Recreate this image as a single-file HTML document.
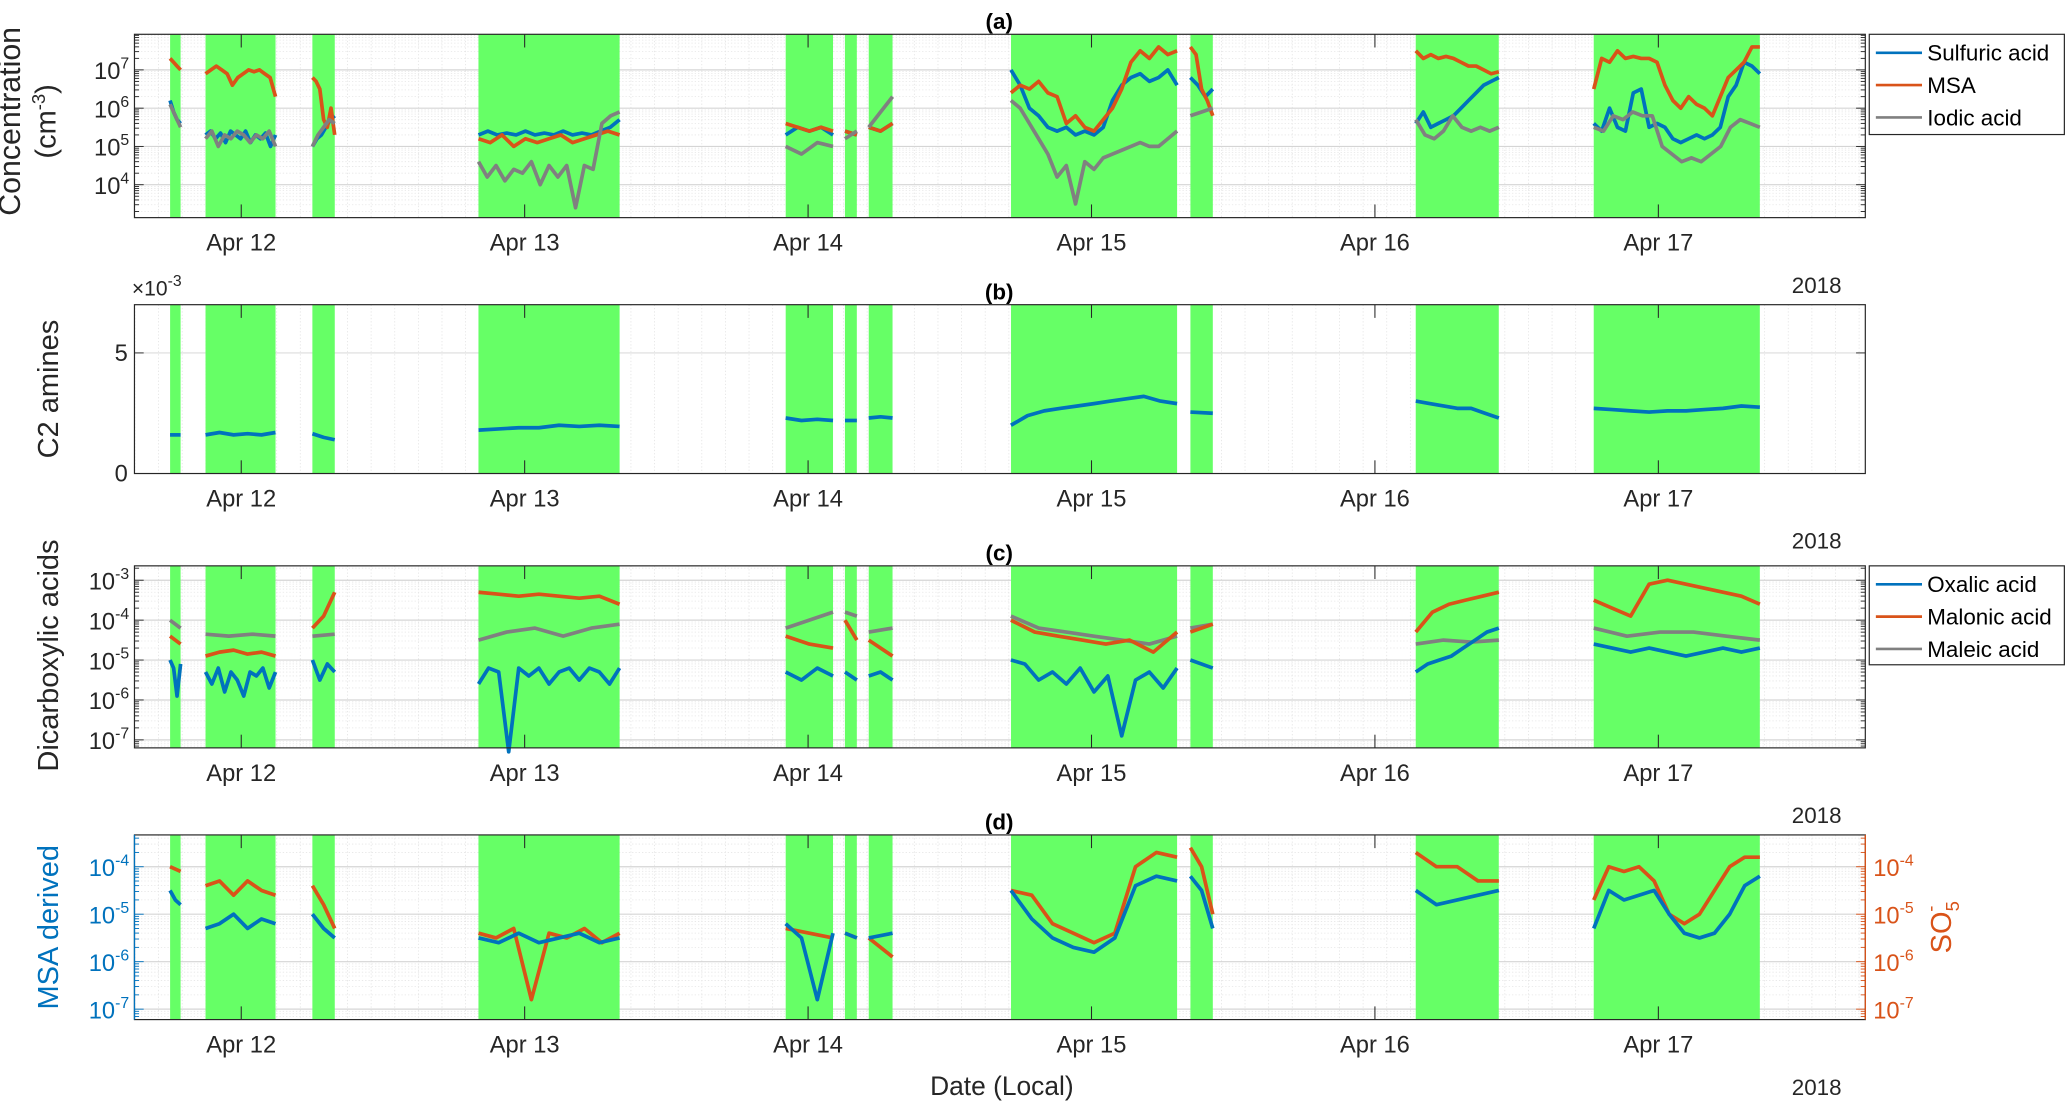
<!DOCTYPE html>
<html><head><meta charset="utf-8"><style>
html,body{margin:0;padding:0;background:#fff;}
svg{display:block;font-family:"Liberation Sans",Arial,sans-serif;}
</style></head><body>
<svg id="chart" width="2067" height="1104" viewBox="0 0 1568 837" preserveAspectRatio="none" xmlns="http://www.w3.org/2000/svg"></svg>
<script>
// ---- data (time in days since Apr 12 00:00 local) ----
const dayLabels = ["Apr 12","Apr 13","Apr 14","Apr 15","Apr 16","Apr 17"];
const bandStart = [-0.251,-0.126,0.251,0.837,1.921,2.130,2.214,2.716,3.349,4.144,4.772];
const bandEnd   = [-0.214, 0.121,0.330,1.335,2.088,2.172,2.298,3.302,3.428,4.437,5.358];
// panel a (log10 cm^-3)
const sulfuric = [[6.2,5.9,5.7,5.6],[5.3,5.4,5.2,5.35,5.1,5.4,5.3,5.2,5.4,5.1,5.3,5.2,5.35,5.0,5.3],[5.0,5.2,5.3,5.5,5.7,5.8],
 [5.3,5.4,5.3,5.35,5.3,5.4,5.3,5.35,5.3,5.4,5.3,5.35,5.3,5.4,5.5,5.7],[5.3,5.5,5.4,5.5,5.3],[5.4,5.3],[5.5,5.4,5.6],
 [7.0,6.6,6.0,5.8,5.5,5.4,5.5,5.3,5.4,5.3,5.5,6.2,6.6,6.8,6.9,6.7,6.8,7.0,6.6],[6.8,6.6,6.3,6.5],
 [5.6,5.9,5.5,5.6,5.7,5.8,6.0,6.2,6.4,6.6,6.7,6.8],[5.6,5.4,6.0,5.5,5.4,6.4,6.5,5.5,5.6,5.5,5.2,5.1,5.2,5.3,5.2,5.3,5.5,6.3,6.6,7.2,7.1,6.9]];
const msa = [[7.3,7.2,7.1,7.0],[6.9,7.0,7.1,7.0,6.9,6.6,6.8,6.9,7.0,6.95,7.0,6.9,6.8,6.3],[6.8,6.7,6.5,5.7,5.5,6.0,5.3],
 [5.2,5.1,5.3,5.0,5.2,5.1,5.2,5.3,5.1,5.2,5.3,5.4,5.3],[5.6,5.5,5.4,5.5,5.4],[5.4,5.3],[5.5,5.4,5.6],
 [6.4,6.6,6.5,6.7,6.4,6.3,5.6,5.8,5.5,5.4,5.7,6.0,6.5,7.2,7.5,7.3,7.6,7.4,7.5],[7.6,7.4,6.5,6.2,5.8],
 [7.5,7.3,7.4,7.3,7.35,7.3,7.2,7.1,7.1,7.0,6.9,6.95],[6.5,7.3,7.2,7.5,7.3,7.35,7.3,7.3,7.2,6.6,6.2,6.0,6.3,6.1,6.0,5.8,6.3,6.8,7.0,7.2,7.6,7.6]];
const iodic = [[6.1,5.9,5.7,5.5],[5.2,5.4,5.0,5.3,5.2,5.4,5.3,5.1,5.3,5.2,5.4,5.0],[5.0,5.3,5.5,5.7,5.6],
 [4.6,4.2,4.5,4.1,4.4,4.3,4.6,4.0,4.5,4.2,4.5,3.4,4.5,4.4,5.6,5.8,5.9],[5.0,4.8,5.1,5.0],[5.2,5.4],[5.5,5.9,6.3],
 [6.2,6.0,5.6,5.2,4.8,4.2,4.5,3.5,4.6,4.4,4.7,4.8,4.9,5.0,5.1,5.0,5.0,5.2,5.4],[5.8,5.9,6.0],
 [5.7,5.3,5.2,5.4,5.8,5.5,5.4,5.5,5.4,5.5],[5.5,5.4,5.8,5.7,5.9,5.8,5.8,5.0,4.8,4.6,4.7,4.6,4.8,5.0,5.5,5.7,5.6,5.5]];
// panel b (x1e-3)
const amines = [[1.6,1.6],[1.6,1.7,1.6,1.65,1.6,1.7],[1.65,1.5,1.4],[1.8,1.85,1.9,1.9,2.0,1.95,2.0,1.95],[2.3,2.2,2.25,2.2],[2.2,2.2],[2.3,2.35,2.3],
 [2.0,2.4,2.6,2.7,2.8,2.9,3.0,3.1,3.2,3.0,2.9],[2.55,2.5],[3.0,2.9,2.8,2.7,2.7,2.5,2.3],[2.7,2.65,2.6,2.55,2.6,2.6,2.65,2.7,2.8,2.75]];
// panel c (log10)
const oxalic = [[-5.0,-5.2,-5.9,-5.1],[-5.3,-5.6,-5.2,-5.8,-5.3,-5.5,-5.9,-5.3,-5.4,-5.2,-5.7,-5.3],[-5.0,-5.5,-5.1,-5.3],
 [-5.6,-5.2,-5.3,-7.3,-5.2,-5.4,-5.2,-5.6,-5.3,-5.2,-5.5,-5.2,-5.3,-5.6,-5.2],[-5.3,-5.5,-5.2,-5.4],[-5.3,-5.5],[-5.4,-5.3,-5.5],
 [-5.0,-5.1,-5.5,-5.3,-5.6,-5.2,-5.8,-5.4,-6.9,-5.5,-5.3,-5.7,-5.2],[-5.0,-5.2],[-5.3,-5.1,-5.0,-4.9,-4.7,-4.5,-4.3,-4.2],
 [-4.6,-4.7,-4.8,-4.7,-4.8,-4.9,-4.8,-4.7,-4.8,-4.7]];
const malonic = [[-4.4,-4.6],[-4.9,-4.8,-4.75,-4.85,-4.8,-4.9],[-4.2,-3.9,-3.3],[-3.3,-3.35,-3.4,-3.35,-3.4,-3.45,-3.4,-3.6],[-4.4,-4.6,-4.7],[-4.0,-4.5],[-4.5,-4.9],
 [-4.0,-4.3,-4.4,-4.5,-4.6,-4.5,-4.8,-4.3],[-4.3,-4.1],[-4.3,-3.8,-3.6,-3.5,-3.4,-3.3],[-3.5,-3.7,-3.9,-3.1,-3.0,-3.1,-3.2,-3.3,-3.4,-3.6]];
const maleic = [[-4.0,-4.2],[-4.35,-4.4,-4.35,-4.4],[-4.4,-4.35],[-4.5,-4.3,-4.2,-4.4,-4.2,-4.1],[-4.2,-3.8],[-3.8,-3.9],[-4.3,-4.2],
 [-3.9,-4.2,-4.3,-4.4,-4.5,-4.6,-4.4],[-4.2,-4.1],[-4.6,-4.5,-4.55,-4.5],[-4.2,-4.4,-4.3,-4.3,-4.4,-4.5]];
// panel d (log10)
const msaDerived = [[-4.5,-4.7,-4.8],[-5.3,-5.2,-5.0,-5.3,-5.1,-5.2],[-5.0,-5.3,-5.5],[-5.5,-5.6,-5.4,-5.6,-5.5,-5.4,-5.6,-5.5],[-5.2,-5.5,-6.8,-5.4],[-5.4,-5.5],[-5.5,-5.4],
 [-4.5,-5.1,-5.5,-5.7,-5.8,-5.5,-4.4,-4.2,-4.3],[-4.2,-4.5,-5.3],[-4.5,-4.8,-4.7,-4.6,-4.5],[-5.3,-4.5,-4.7,-4.6,-4.5,-5.0,-5.4,-5.5,-5.4,-5.0,-4.4,-4.2]];
const so5 = [[-4.0,-4.1],[-4.4,-4.3,-4.6,-4.3,-4.5,-4.6],[-4.4,-4.8,-5.3],[-5.4,-5.5,-5.3,-6.8,-5.4,-5.5,-5.3,-5.6,-5.4],[-5.3,-5.5],[-5.4,-5.5],[-5.5,-5.9],
 [-4.5,-4.6,-5.2,-5.4,-5.6,-5.4,-4.0,-3.7,-3.8],[-3.6,-4.0,-5.0],[-3.7,-4.0,-4.0,-4.3,-4.3],[-4.7,-4.0,-4.1,-4.0,-4.3,-5.0,-5.2,-5.0,-4.5,-4.0,-3.8,-3.8]];

// ---- drawing ----
const svg = document.getElementById('chart');
const NS = "http://www.w3.org/2000/svg";
const X0 = 102, X1 = 1415;
function xs(t){ return 183 + 215*t; }
function mk(tag, attrs, parent){ const e=document.createElementNS(NS,tag); for(const k in attrs) e.setAttribute(k,attrs[k]); (parent||svg).appendChild(e); return e; }
const BLUE="#0072BD", RED="#D95319", GRAY="#808080", GREEN="#66FF66";
const panels = {
 a:{top:26,bottom:165,min:3.14,max:7.93,log:true},
 b:{top:231,bottom:359,min:0,max:7,log:false},
 c:{top:429,bottom:567,min:-7.2,max:-2.64,log:true},
 d:{top:633,bottom:773,min:-7.22,max:-3.33,log:true}
};
function ys(p,v){ return p.bottom - (v-p.min)/(p.max-p.min)*(p.bottom-p.top); }

function drawPanel(key, title){
 const p = panels[key];
 const g = mk('g',{});
 
 
 for(let t=-0.375; t<=5.75; t+=1/12){ const x=xs(t); if(x<X0||x>X1) continue;
  mk('line',{x1:x,x2:x,y1:p.top,y2:p.bottom,stroke:'#e3e3e3','stroke-width':0.6,'stroke-dasharray':'1,1.5'},g); }
 if(p.log){
  for(let d=Math.floor(p.min); d<=Math.ceil(p.max); d++){
   for(let k=1;k<10;k++){ const v=d+Math.log10(k); if(v<p.min||v>p.max) continue; const y=ys(p,v);
    mk('line',{x1:X0,x2:X1,y1:y,y2:y,stroke:k==1?'#d5d5d5':'#e6e6e6','stroke-width':k==1?0.9:0.6,'stroke-dasharray':k==1?'':'1,1.5'},g);
    const tl = k==1?7:3.5;
    mk('line',{x1:X0,x2:X0+tl,y1:y,y2:y,stroke:key=='d'?BLUE:'#262626','stroke-width':0.7},g);
    mk('line',{x1:X1,x2:X1-tl,y1:y,y2:y,stroke:key=='d'?RED:'#262626','stroke-width':0.7},g);
   }
  }
 } else {
  const y=ys(p,5); mk('line',{x1:X0,x2:X1,y1:y,y2:y,stroke:'#dcdcdc','stroke-width':0.8},g);
  mk('line',{x1:X0,x2:X0+7,y1:y,y2:y,stroke:'#262626','stroke-width':0.7},g);
  mk('line',{x1:X1,x2:X1-7,y1:y,y2:y,stroke:'#262626','stroke-width':0.7},g);
 }
 for(let i=0;i<bandStart.length;i++){
  const r=mk('rect',{x:xs(bandStart[i]),y:p.top,width:xs(bandEnd[i])-xs(bandStart[i]),height:p.bottom-p.top,fill:GREEN},g);
  
  
 }
 dayLabels.forEach((lab,i)=>{ const x=xs(i);
  mk('line',{x1:x,x2:x,y1:p.top,y2:p.top+10,stroke:'#262626','stroke-width':0.8},g);
  mk('line',{x1:x,x2:x,y1:p.bottom,y2:p.bottom-10,stroke:'#262626','stroke-width':0.8},g);
  const tx=mk('text',{x:x,y:p.bottom+25,'font-size':18,'text-anchor':'middle',fill:'#262626'},g); tx.textContent=lab;
  
  
 });
 const yr=mk('text',{x:1397,y:p.bottom+57,'font-size':17,'text-anchor':'end',fill:'#262626'},g); yr.textContent='2018';
 
 
 const tt=mk('text',{x:758,y:p.top-4,'font-size':17,'font-weight':'bold','text-anchor':'middle',fill:'#000'},g); tt.textContent=title;
 
 
 return g;
}
function box(key){ const p=panels[key];
 mk('rect',{x:X0,y:p.top,width:X1-X0,height:p.bottom-p.top,fill:'none',stroke:'#262626','stroke-width':0.9});
 if(key=='d'){ mk('line',{x1:X0,x2:X0,y1:p.top,y2:p.bottom,stroke:BLUE,'stroke-width':1}); mk('line',{x1:X1,x2:X1,y1:p.top,y2:p.bottom,stroke:RED,'stroke-width':1}); }
}
function drawSeries(key, data, color, name){
 const p=panels[key];
 data.forEach((seg,i)=>{ if(!seg) return;
  const n=seg.length; const pts=seg.map((v,j)=>{ const t=bandStart[i]+(bandEnd[i]-bandStart[i])*(n>1?j/(n-1):0); return xs(t).toFixed(1)+','+ys(p,v).toFixed(1); }).join(' ');
  const pl=mk('polyline',{points:pts,fill:'none',stroke:color,'stroke-width':2.8,'stroke-linejoin':'round'});
  
  
 });
}
function logLabel(x,y,exp,color,anchor){
 const t=mk('text',{x:x,y:y,'font-size':18,fill:color,'text-anchor':anchor||'end'});
 
 
 const a=document.createElementNS(NS,'tspan'); a.textContent='10'; t.appendChild(a);
 const b=document.createElementNS(NS,'tspan'); b.setAttribute('dy','-8'); b.setAttribute('font-size','12'); b.textContent=String(exp); t.appendChild(b);
}
function legend(y0,h,items){
 const g=mk('g',{});  
 mk('rect',{x:1418,y:y0,width:148,height:h,fill:'#fff',stroke:'#262626','stroke-width':0.9},g);
 items.forEach((it,i)=>{ const y=y0+14+i*24.5;
  mk('line',{x1:1423,x2:1458,y1:y,y2:y,stroke:it[1],'stroke-width':2},g);
  const t=mk('text',{x:1462,y:y+6,'font-size':17,fill:'#000'},g); t.textContent=it[0];
   
 });
}
function ylab(x,y,txt,color,fs){ const t=mk('text',{x:x,y:y,'font-size':fs||22,fill:color,'text-anchor':'middle',transform:`rotate(-90 ${x} ${y})`}); t.textContent=txt;
   return t; }

// Panel a
drawPanel('a','(a)');
drawSeries('a',sulfuric,BLUE,'sulfuric-acid'); drawSeries('a',msa,RED,'msa'); drawSeries('a',iodic,GRAY,'iodic-acid');
box('a');
[7,6,5,4].forEach(e=>logLabel(98,ys(panels.a,e)+7,e,'#262626'));
ylab(15,92,'Concentration','#262626',23);
const cm=mk('text',{x:42,y:92,'font-size':22,fill:'#262626','text-anchor':'middle',transform:'rotate(-90 42 92)'});
 
cm.innerHTML='(cm<tspan dy="-8" font-size="14">-3</tspan><tspan dy="8">)</tspan>';
legend(26,76,[['Sulfuric acid',BLUE],['MSA',RED],['Iodic acid',GRAY]]);

// Panel b
drawPanel('b','(b)');
drawSeries('b',amines,BLUE,'c2-amines');
box('b');
[[0,'0'],[5,'5']].forEach(v=>{ const t=mk('text',{x:97,y:ys(panels.b,v[0])+6,'font-size':18,fill:'#262626','text-anchor':'end'}); t.textContent=v[1];
   });
const mult=mk('text',{x:100,y:224,'font-size':16,fill:'#262626'}); mult.innerHTML='×10<tspan dy="-7" font-size="12">-3</tspan>';
 
ylab(44,295,'C2 amines','#262626');

// Panel c
drawPanel('c','(c)');
drawSeries('c',maleic,GRAY,'maleic-acid'); drawSeries('c',malonic,RED,'malonic-acid'); drawSeries('c',oxalic,BLUE,'oxalic-acid');
box('c');
[-3,-4,-5,-6,-7].forEach(e=>logLabel(98,ys(panels.c,e)+7,e,'#262626'));
ylab(44,497,'Dicarboxylic acids','#262626');
legend(429,75,[['Oxalic acid',BLUE],['Malonic acid',RED],['Maleic acid',GRAY]]);

// Panel d
drawPanel('d','(d)');
drawSeries('d',so5,RED,'so5'); drawSeries('d',msaDerived,BLUE,'msa-derived');
box('d');
[-4,-5,-6,-7].forEach(e=>logLabel(98,ys(panels.d,e)+7,e,BLUE));
[-4,-5,-6,-7].forEach(e=>logLabel(1421,ys(panels.d,e)+7,e,RED,'start'));
ylab(44,703,'MSA derived',BLUE);
const so=mk('text',{x:1480,y:703,'font-size':22,fill:RED,'text-anchor':'middle',transform:'rotate(-90 1480 703)'});
 
so.innerHTML='SO<tspan dy="6" font-size="14">5</tspan><tspan dx="-8" dy="-17" font-size="14">-</tspan>';

const xl=mk('text',{x:760,y:830,'font-size':20,fill:'#262626','text-anchor':'middle'}); xl.textContent='Date (Local)';
 
</script>
</body></html>
